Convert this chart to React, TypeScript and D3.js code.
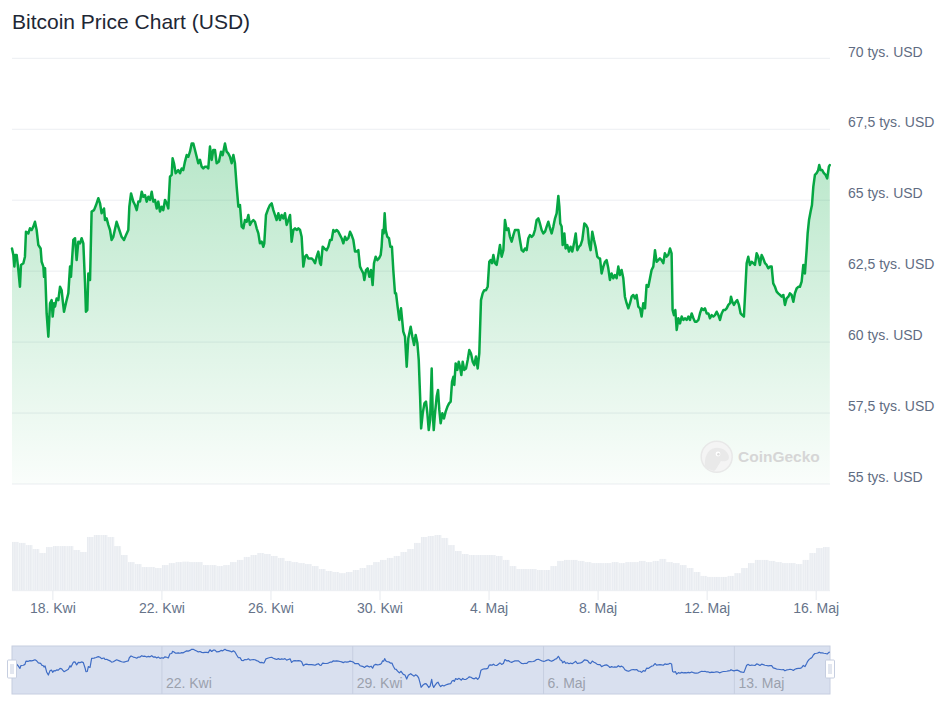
import React, { useEffect } from 'react';
import * as d3 from 'd3';

// ---------- data ----------
const START_UTC = Date.UTC(2024, 3, 16, 12); // 16 Apr 2024 12:00 UTC
const HOUR_MS = 3600 * 1000;
const SPAN_HOURS = 720;

// [hours since start, BTC price in USD]
const PRICE_POINTS: [number, number][] = [
  [0, 63300], [1.2, 63070], [2.1, 62660], [2.9, 63070], [4.1, 63070], [5.6, 62540], [7.0, 61950], [7.9, 62720],
  [10.0, 62780], [11.4, 63010], [12.3, 63890], [14.4, 63830], [15.8, 64010], [17.3, 63950], [18.8, 64070], [20.2, 64240],
  [21.7, 63950], [23.2, 63420], [25.2, 63300], [26.1, 62830], [27.6, 62660], [28.2, 62300], [29.1, 62600], [30.5, 61010],
  [32.0, 60190], [33.5, 61370], [34.9, 61480], [35.8, 60900], [37.0, 61370], [37.9, 61250], [39.3, 61540], [40.8, 61480],
  [42.3, 61950], [43.7, 61830], [44.6, 61480], [45.8, 61070], [48.1, 61480], [49.6, 61720], [51.1, 62660], [51.9, 62300],
  [54.0, 63600], [55.5, 63660], [56.9, 62890], [58.4, 63540], [59.9, 63480], [61.3, 63660], [62.8, 63480], [64.3, 62070],
  [65.1, 61070], [66.3, 61130], [67.2, 62420], [68.7, 62190], [70.1, 64600], [72.2, 64650], [74.0, 64830], [76.0, 65070],
  [77.5, 64890], [78.9, 64540], [81.0, 64710], [81.9, 64300], [83.3, 64360], [84.8, 64130], [86.3, 63950], [87.7, 63600],
  [89.2, 63710], [92.1, 64240], [94.5, 63950], [96.5, 63710], [98.6, 63600], [100.4, 63770], [102.4, 63950], [103.3, 64770],
  [104.8, 65240], [106.8, 64950], [108.3, 64830], [109.8, 64650], [111.2, 64950], [112.7, 64950], [114.2, 65300], [115.6, 65120],
  [117.1, 65180], [118.6, 64950], [120.0, 65120], [121.5, 65010], [123.0, 65300], [124.4, 64950], [125.9, 65010], [127.4, 64710],
  [128.8, 64950], [130.3, 64600], [131.8, 64770], [133.2, 64650], [134.7, 65010], [136.2, 64890], [137.6, 64710], [139.1, 65830],
  [140.6, 65890], [141.4, 66480], [142.6, 66300], [144.1, 65950], [146.4, 66060], [147.9, 65950], [149.4, 66120], [150.8, 66060],
  [152.3, 66360], [153.8, 66590], [155.2, 66530], [156.7, 66710], [158.2, 67000], [159.6, 67000], [161.1, 66770], [162.6, 66530],
  [164.0, 66300], [165.5, 66420], [167.0, 66180], [168.4, 66120], [169.9, 66180], [171.4, 66180], [172.8, 66120], [174.3, 66890],
  [175.8, 66420], [177.2, 66770], [178.7, 66770], [180.2, 66300], [182.2, 66360], [184.0, 66710], [185.5, 66590], [187.5, 67000],
  [189.0, 66710], [190.4, 66650], [191.9, 66530], [193.4, 66300], [194.9, 66590], [196.3, 66300], [197.8, 65480], [199.3, 64770],
  [200.7, 64830], [202.2, 64070], [203.7, 64010], [205.1, 64300], [206.6, 64240], [208.1, 64480], [209.5, 64130], [211.0, 64240],
  [212.5, 64300], [213.9, 64240], [215.4, 64010], [216.9, 63830], [218.3, 63480], [219.8, 63540], [221.3, 63360], [222.1, 63480],
  [223.6, 64480], [225.7, 64710], [227.1, 64830], [228.6, 64890], [230.1, 64650], [231.5, 64480], [233.0, 64300], [234.5, 64540],
  [235.9, 64300], [237.4, 64480], [238.9, 64360], [240.3, 64540], [241.8, 64130], [243.3, 64300], [244.8, 64480], [246.2, 63540],
  [247.7, 63950], [249.2, 64010], [250.6, 63950], [252.1, 64010], [253.6, 63950], [255.0, 63710], [256.5, 62660], [258.0, 63010],
  [259.4, 63070], [260.9, 62950], [262.4, 62950], [263.8, 62950], [265.3, 62890], [266.8, 62780], [268.2, 63010], [269.7, 63190],
  [271.2, 62780], [272.0, 62720], [273.5, 63360], [275.0, 63300], [277.0, 63240], [278.5, 63360], [280.0, 63600], [281.4, 63600],
  [282.9, 63950], [284.3, 63890], [285.8, 63950], [287.3, 63890], [288.8, 63770], [290.2, 63660], [291.7, 63480], [293.2, 63710],
  [294.6, 63600], [296.1, 63660], [297.6, 63890], [299.0, 63770], [300.5, 63600], [302.0, 63190], [303.4, 63190], [304.9, 63240],
  [306.4, 62660], [307.8, 62540], [309.3, 62420], [310.2, 62190], [311.7, 62540], [313.1, 62600], [314.6, 62300], [316.1, 62540],
  [317.5, 62010], [318.7, 62780], [320.2, 63010], [321.6, 62890], [323.1, 62950], [324.6, 63070], [325.4, 63360], [326.3, 63950],
  [327.2, 63830], [328.1, 64540], [329.0, 63950], [330.4, 63710], [331.9, 63660], [333.1, 63360], [334.5, 63360], [335.7, 62540],
  [337.2, 61720], [338.1, 61720], [339.5, 61250], [341.0, 60780], [342.5, 61190], [344.5, 60370], [346.0, 60190], [347.5, 59130],
  [348.9, 60130], [351.0, 60540], [352.5, 60190], [354.0, 59900], [355.4, 60250], [356.9, 59960], [358.1, 59370], [359.3, 58080],
  [360.2, 56960], [361.6, 57490], [363.1, 57840], [364.5, 57900], [365.7, 57490], [366.9, 56900], [368.1, 57250], [369.5, 59070],
  [370.4, 57490], [371.3, 56900], [372.4, 57490], [373.9, 58080], [375.1, 58310], [376.2, 57610], [377.4, 57140], [378.9, 57490],
  [380.3, 57310], [381.8, 57550], [383.3, 57720], [384.8, 57840], [386.2, 57900], [387.4, 58600], [388.6, 58780], [389.4, 58490],
  [390.6, 59250], [392.1, 59020], [393.3, 59310], [394.4, 59130], [395.6, 58840], [396.8, 59310], [398.2, 59020], [399.7, 59070],
  [401.2, 59370], [402.6, 59720], [404.1, 59600], [405.6, 59310], [407.0, 59190], [408.5, 59490], [410.0, 59070], [411.4, 59600],
  [412.9, 61480], [414.4, 61720], [415.8, 61830], [417.3, 61830], [418.8, 61950], [420.2, 62830], [421.4, 62890], [422.6, 62780],
  [423.8, 63070], [425.2, 62780], [426.7, 62720], [428.2, 63070], [429.6, 63420], [431.1, 63010], [432.6, 63240], [434.0, 64300],
  [435.5, 63950], [437.0, 64010], [438.4, 63710], [439.9, 63540], [441.4, 63770], [442.8, 63950], [444.3, 63950], [445.8, 63950],
  [447.2, 63600], [448.7, 63240], [450.2, 63190], [451.6, 63300], [453.1, 63240], [454.6, 63660], [456.0, 63770], [457.5, 63710],
  [459.0, 63770], [460.4, 63950], [461.9, 64300], [463.4, 64360], [464.8, 64180], [466.3, 63950], [467.8, 63830], [469.3, 63890],
  [470.7, 64070], [472.2, 64240], [473.7, 64010], [475.1, 63830], [476.6, 64070], [478.1, 64360], [479.5, 64540], [481.0, 65150],
  [481.9, 64770], [482.7, 64180], [483.9, 64070], [484.8, 63420], [486.3, 63830], [487.4, 63300], [488.9, 63420], [490.4, 63190],
  [491.8, 63360], [493.3, 63190], [494.8, 63480], [496.3, 63830], [497.7, 63240], [499.2, 63360], [500.6, 63420], [502.1, 63600],
  [503.9, 64180], [505.3, 64130], [506.8, 64010], [508.0, 63480], [509.4, 63240], [510.9, 63890], [512.4, 63600], [513.8, 63360],
  [515.3, 63010], [516.8, 62950], [517.7, 62950], [519.1, 62420], [520.6, 62660], [522.1, 62830], [523.5, 62890], [525.0, 62600],
  [526.4, 62190], [527.9, 62420], [529.4, 62250], [530.8, 62360], [532.3, 62250], [533.8, 62660], [535.2, 62360], [536.7, 62540],
  [538.2, 62250], [539.6, 61600], [541.1, 61370], [542.6, 61190], [544.1, 61370], [545.5, 61600], [547.0, 61660], [548.5, 61540],
  [549.9, 61660], [551.4, 61250], [552.9, 61190], [554.3, 60900], [555.8, 61370], [557.3, 61190], [558.7, 62010], [560.2, 61950],
  [561.7, 62250], [563.1, 62540], [564.6, 62660], [566.1, 63240], [567.5, 62830], [569.0, 62890], [570.4, 62950], [571.9, 62890],
  [573.4, 62780], [574.8, 63130], [576.3, 63010], [577.8, 63070], [579.3, 63300], [580.7, 63130], [581.6, 61130], [582.8, 60950],
  [584.0, 61130], [585.2, 60430], [586.7, 60840], [588.1, 60660], [589.6, 60900], [591.1, 60780], [592.5, 60840], [594.0, 60780],
  [595.5, 60900], [596.9, 60780], [598.4, 61010], [599.9, 60840], [601.3, 60720], [602.8, 60720], [604.3, 60780], [605.7, 61010],
  [607.2, 61190], [608.7, 61130], [610.1, 61190], [611.6, 61010], [613.1, 61010], [614.5, 60840], [616.0, 60950], [617.5, 60900],
  [618.9, 60950], [620.4, 61070], [621.9, 60950], [623.3, 60780], [624.8, 61010], [626.3, 61130], [627.7, 61130], [629.2, 61190],
  [630.7, 61310], [632.2, 61370], [633.0, 61600], [634.2, 61420], [635.6, 61310], [637.1, 61420], [638.5, 61480], [640.0, 61310],
  [641.5, 61010], [642.9, 60950], [644.4, 60900], [645.6, 61830], [646.8, 62780], [648.2, 63010], [649.7, 62720], [651.2, 62830],
  [652.6, 62780], [654.1, 62720], [655.6, 63130], [657.0, 63010], [658.5, 62720], [660.0, 63070], [661.4, 62950], [662.9, 62780],
  [664.4, 62720], [665.8, 62600], [667.3, 62660], [668.8, 62660], [670.2, 62070], [671.7, 61950], [673.2, 61780], [674.6, 61720],
  [676.1, 61660], [677.6, 61600], [679.1, 61660], [680.5, 61310], [682.0, 61540], [683.5, 61600], [684.9, 61720], [686.4, 61660],
  [687.9, 61420], [689.3, 61720], [690.8, 61890], [692.3, 61950], [693.7, 61950], [695.2, 62130], [696.7, 62720], [698.1, 62420],
  [699.6, 63240], [700.5, 63830], [701.7, 64300], [703.1, 64600], [704.3, 64830], [705.5, 65480], [706.9, 65890], [708.4, 65950],
  [709.8, 66060], [710.7, 66240], [711.9, 66060], [713.3, 66060], [714.8, 65950], [716.3, 65890], [717.7, 65770], [719.2, 66180],
  [720, 66240],
];

// 24h trading volume, billions USD, one value per 6 hours
const VOLUME_BN_6H: number[] = [
  34.4, 33.7, 32.2, 29.4, 26.6, 30.8, 31.5, 31.5, 31.5, 28.7,
  27.3, 37.9, 39.3, 39.3, 37.9, 31.5, 25.2, 20.2, 18.8, 16.7,
  16.7, 16.0, 18.1, 19.5, 20.2, 20.5, 20.2, 20.2, 18.1, 18.1,
  17.4, 18.1, 20.2, 21.7, 23.8, 25.2, 26.6, 25.9, 24.5, 23.1,
  21.0, 20.2, 19.5, 18.8, 17.4, 15.3, 13.9, 13.2, 12.4, 13.2,
  14.6, 16.0, 18.1, 20.2, 21.7, 23.1, 24.5, 27.3, 29.4, 33.7,
  37.9, 38.6, 39.3, 37.2, 32.2, 28.0, 25.9, 25.2, 25.2, 25.2,
  25.2, 24.5, 21.7, 17.4, 15.3, 15.3, 15.3, 14.6, 14.6, 17.4,
  21.0, 21.7, 21.7, 21.0, 20.2, 19.5, 19.5, 19.5, 20.2, 19.5,
  20.2, 20.2, 21.0, 20.2, 21.0, 22.4, 20.2, 19.5, 18.1, 16.0,
  13.2, 10.4, 9.7, 9.7, 9.7, 10.4, 12.4, 16.0, 19.5, 21.7,
  21.7, 21.0, 20.2, 19.5, 19.5, 18.8, 21.7, 26.6, 30.1, 30.8,
];

const Y_TICKS = [55000, 57500, 60000, 62500, 65000, 67500, 70000];
const Y_TICK_LABELS = ['55 tys. USD', '57,5 tys. USD', '60 tys. USD', '62,5 tys. USD', '65 tys. USD', '67,5 tys. USD', '70 tys. USD'];

const X_TICK_DATES = [[2024, 3, 18], [2024, 3, 22], [2024, 3, 26], [2024, 3, 30], [2024, 4, 4], [2024, 4, 8], [2024, 4, 12], [2024, 4, 16]];
const X_TICK_LABELS = ['18. Kwi', '22. Kwi', '26. Kwi', '30. Kwi', '4. Maj', '8. Maj', '12. Maj', '16. Maj'];

const NAV_TICK_DATES = [[2024, 3, 22], [2024, 3, 29], [2024, 4, 6], [2024, 4, 13]];
const NAV_TICK_LABELS = ['22. Kwi', '29. Kwi', '6. Maj', '13. Maj'];

const TITLE = 'Bitcoin Price Chart (USD)';

// ---------- component ----------
const FONT = '"Liberation Sans", Arial, Helvetica, sans-serif';

export default function App() {
  useEffect(() => {
    document.body.style.margin = '0';
  }, []);

  const W = 948;
  const H = 711;
  const left = 12;
  const right = 829.8;

  const x = d3.scaleUtc()
    .domain([new Date(START_UTC), new Date(START_UTC + SPAN_HOURS * HOUR_MS)])
    .range([left, right]);
  const y = d3.scaleLinear().domain([55000, 70000]).range([484, 58.3]);
  const vy = d3.scaleLinear().domain([0, 40]).range([590.7, 534]);
  const ny = d3.scaleLinear().domain([56900, 67000]).range([687.5, 649.3]);

  const tOf = (h: number) => new Date(START_UTC + h * HOUR_MS);

  const line = d3.line<[number, number]>()
    .x(d => x(tOf(d[0])))
    .y(d => y(d[1]));
  const area = d3.area<[number, number]>()
    .x(d => x(tOf(d[0])))
    .y0(y(55000))
    .y1(d => y(d[1]));
  const navLine = d3.line<[number, number]>()
    .x(d => x(tOf(d[0])))
    .y(d => ny(d[1]));

  const xTicks = X_TICK_DATES.map(([yy, m, dd]) => new Date(Date.UTC(yy, m, dd)));
  const navTicks = NAV_TICK_DATES.map(([yy, m, dd]) => new Date(Date.UTC(yy, m, dd)));

  const navTop = 646;
  const navBottom = 694;
  const navRight = 830;
  const hourPx = x(tOf(1)) - x(tOf(0));

  return (
    <svg width={W} height={H} style={{ position: 'absolute', left: 0, top: 0, display: 'block' }} fontFamily={FONT}>
      <defs>
        <linearGradient id="priceFill" gradientUnits="userSpaceOnUse" x1="0" y1={y(67000)} x2="0" y2={y(55000)}>
          <stop offset="0" stopColor="#00a83e" stopOpacity={0.28} />
          <stop offset="1" stopColor="#00a83e" stopOpacity={0.02} />
        </linearGradient>
        <pattern id="volStripes" patternUnits="userSpaceOnUse" x={left} y={0} width={hourPx * 2} height={10}>
          <rect x={0} y={0} width={hourPx * 2} height={10} fill="#f1f3f6" />
          <rect x={0} y={0} width={hourPx} height={10} fill="#e8ebf0" />
        </pattern>
      </defs>
      <rect x={0} y={0} width={W} height={H} fill="#ffffff" />

      <text x={12} y={28.5} fontSize={21} fill="#1e2735">{TITLE}</text>

      {/* grid + y labels */}
      {Y_TICKS.map((v, i) => (
        <g key={v}>
          <line x1={left} x2={830} y1={y(v)} y2={y(v)} stroke="#eceef2" strokeWidth={1} />
          <text x={848} y={y(v) - 1.8} fontSize={14} fill="#5f6c82">{Y_TICK_LABELS[i]}</text>
        </g>
      ))}

      {/* volume */}
      {VOLUME_BN_6H.map((v, i) => {
        const x0 = x(tOf(i * 6));
        const x1 = x(tOf((i + 1) * 6));
        return (
          <rect key={i} x={x0} width={x1 - x0} y={vy(v)} height={vy(0) - vy(v)} fill="url(#volStripes)" />
        );
      })}
      <line x1={left} x2={830} y1={vy(0)} y2={vy(0)} stroke="#eceef2" />
      {xTicks.map((d, i) => (
        <g key={i}>
          <line x1={x(d)} x2={x(d)} y1={vy(0)} y2={600} stroke="#e6e9ee" />
          <text x={x(d)} y={612.5} fontSize={14} fill="#667389" textAnchor="middle">{X_TICK_LABELS[i]}</text>
        </g>
      ))}

      {/* price area + line */}
      <path d={area(PRICE_POINTS) || ''} fill="url(#priceFill)" />
      <path d={line(PRICE_POINTS) || ''} fill="none" stroke="#06a743" strokeWidth={2.5} strokeLinejoin="round" strokeLinecap="round" />

      {/* watermark */}
      <g>
        <circle cx={716.7} cy={456.7} r={15.5} fill="#f4f4f4" stroke="#e8e8e8" strokeWidth={1.5} />
        <path d="M705,468 C704,458 707,449 715,448 C722,447 728,451 729,457 C729,461 725,462 721,461 C718,466 716,470 714,471 Z" fill="#e9e9e9" />
        <circle cx={718} cy={454} r={2.4} fill="#ffffff" />
        <circle cx={718.4} cy={454.2} r={1.2} fill="#dcdcdc" />
        <text x={738} y={462} fontSize={15.5} fontWeight="bold" fill="#d6d6d6">CoinGecko</text>
      </g>

      {/* navigator */}
      <rect x={left} y={navTop} width={navRight - left} height={navBottom - navTop} fill="#d9e0ef" stroke="#c6cee0" strokeWidth={1} />
      {navTicks.map((d, i) => (
        <g key={i}>
          <line x1={x(d)} x2={x(d)} y1={navTop} y2={navBottom} stroke="#c6cee0" />
          <text x={x(d) + 4} y={688} fontSize={14} fill="#9ba1ad">{NAV_TICK_LABELS[i]}</text>
        </g>
      ))}
      <path d={navLine(PRICE_POINTS) || ''} fill="none" stroke="#3e6cc5" strokeWidth={1.2} strokeLinejoin="round" />
      {[left - 4.5, navRight - 4.5].map((hx, i) => (
        <g key={i}>
          <rect x={hx} y={660} width={9} height={18} rx={1} fill="#ffffff" stroke="#c6cee0" />
          <line x1={hx + 3.5} x2={hx + 3.5} y1={664} y2={674} stroke="#c6cee0" />
          <line x1={hx + 5.5} x2={hx + 5.5} y1={664} y2={674} stroke="#c6cee0" />
        </g>
      ))}
    </svg>
  );
}
